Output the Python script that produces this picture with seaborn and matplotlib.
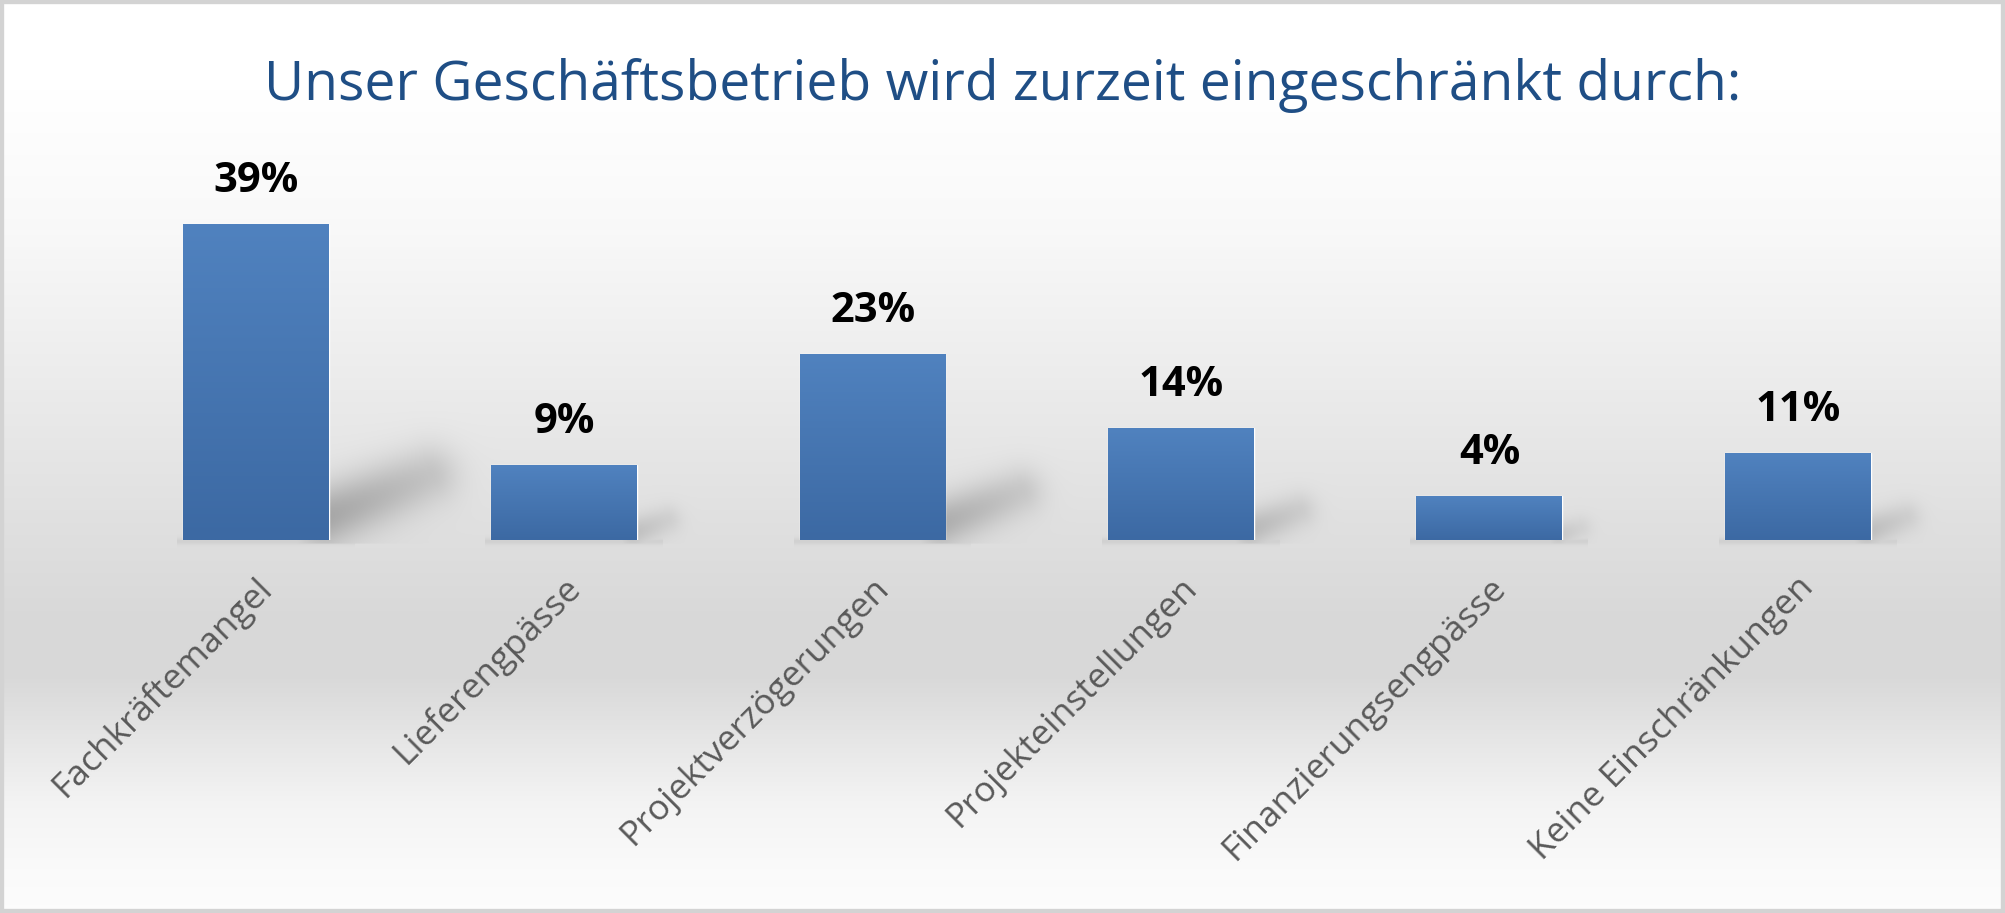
import numpy as np
import matplotlib
matplotlib.use("Agg")
import matplotlib.pyplot as plt
from matplotlib.patches import Rectangle
from matplotlib.transforms import ScaledTranslation
import seaborn as sns

# ---------------- data ----------------
categories = ["Fachkräftemangel", "Lieferengpässe", "Projektverzögerungen",
              "Projekteinstellungen", "Finanzierungsengpässe", "Keine Einschränkungen"]
# bar heights as drawn in the picture (percent)
values = [39, 9.2, 22.9, 13.8, 5.4, 10.7]
value_labels = ["39%", "9%", "23%", "14%", "4%", "11%"]
title_text = "Unser Geschäftsbetrieb wird zurzeit eingeschränkt durch:"

# ---------------- style ----------------
sns.set_theme(style="white")
plt.rcParams["font.family"] = ["Open Sans", "DejaVu Sans"]

W, H = 2005, 913
fig = plt.figure(figsize=(W / 100, H / 100), dpi=100)

bg = fig.add_axes([0, 0, 1, 1], zorder=0)
bg.set_axis_off()

ax = fig.add_axes([0.0506, 0.409, 0.923, 0.399], zorder=1)
ax.patch.set_alpha(0)

sns.barplot(x=categories, y=values, color="#4a7ab6", saturation=1,
            width=0.473, ax=ax, zorder=3)
ax.set_xlim(-0.5, 5.5)
ax.set_ylim(0, 45)
for s in ax.spines.values():
    s.set_visible(False)
ax.set_yticks([])
ax.set_xlabel("")
ax.set_ylabel("")
ax.set_xticks(range(len(categories)))
ax.set_xticklabels(categories, rotation=45, ha="right", va="center",
                   rotation_mode="anchor", fontsize=25.5, color="#595959")
ax.tick_params(axis="x", length=0, pad=31)
shift = ScaledTranslation(11 / 100, 0, fig.dpi_scale_trans)
for lab in ax.get_xticklabels():
    lab.set_transform(lab.get_transform() + shift)

# bar gradients
top_c = np.array([0x50, 0x82, 0xbf]) / 255
bot_c = np.array([0x3c, 0x69, 0xa3]) / 255
t = np.linspace(0, 1, 200)[:, None, None]
grad = top_c[None, None, :] * (1 - t) + bot_c[None, None, :] * t
bars = list(ax.patches)
for p, lab in zip(bars, value_labels):
    x0, w, h = p.get_x(), p.get_width(), p.get_height()
    im = ax.imshow(grad, extent=[x0, x0 + w, 0, h], aspect="auto",
                   origin="upper", zorder=4, interpolation="bilinear")
    im.set_clip_path(p)
    ax.annotate(lab, (x0 + w / 2, h), xytext=(0, 23), textcoords="offset points",
                ha="center", va="baseline", fontsize=30, fontweight="bold",
                color="black", zorder=5)
ax.set_xlim(-0.5, 5.5)
ax.set_ylim(0, 45)

# ---------------- background gradient + shadows ----------------
stops_pos = [0.0, 0.10, 0.25, 0.40, 0.55, 0.68, 0.74, 0.82, 0.88, 0.95, 1.0]
stops_val = [1.0, 1.0, 0.975, 0.93, 0.885, 0.848, 0.848, 0.91, 0.955, 0.98, 0.99]
rows = (np.arange(H) + 0.5) / H
col = np.interp(rows, stops_pos, stops_val)
gray = np.repeat(col[:, None], W, axis=1)

Xg, Yg = np.meshgrid(np.arange(W) + 0.5, np.arange(H) + 0.5)
alpha = np.zeros_like(gray)
for p in bars:
    x0, w, h = p.get_x(), p.get_width(), p.get_height()
    (px0, py0), (px1, py1) = ax.transData.transform([(x0, 0), (x0 + w, h)])
    yb = H - py0
    hp = py1 - py0
    s = min(1.0, hp / 250.0)
    ax_, ay_ = px1 - 4, yb - 22 * s
    bx_, by_ = px1 + 100 * s, yb - 64 * s
    dx, dy = bx_ - ax_, by_ - ay_
    L2 = dx * dx + dy * dy
    tt = np.clip(((Xg - ax_) * dx + (Yg - ay_) * dy) / L2, 0, 1)
    d2 = (Xg - (ax_ + tt * dx)) ** 2 + (Yg - (ay_ + tt * dy)) ** 2
    sig = 6 + 15 * s
    a = 0.26 * np.sqrt(s) * np.exp(-d2 / (2 * sig ** 2)) * (1 - 0.45 * tt)
    a[Yg > yb + 4] = 0
    ub = np.exp(-((Yg - (yb + 2)) ** 2) / (2 * 2.5 ** 2)) * 0.06
    ub[(Xg < px0 - 6) | (Xg > px1 + 26)] = 0
    alpha = np.maximum(alpha, np.maximum(a, ub))
gray = gray * (1 - alpha)
img = np.dstack([gray, gray, gray])
bg.imshow(img, extent=[0, 1, 0, 1], aspect="auto", origin="upper",
          interpolation="bilinear")
bg.set_xlim(0, 1)
bg.set_ylim(0, 1)

# title
fig.text(0.5, 1 - 100 / H, title_text, ha="center", va="baseline",
         fontsize=39.7, color="#1f4e85")

# outer border
fig.patches.append(Rectangle((0, 0), 1, 1, transform=fig.transFigure, fill=False,
                             edgecolor="#d3d3d3", linewidth=6, zorder=10))

fig.savefig("out.png", dpi=100)
